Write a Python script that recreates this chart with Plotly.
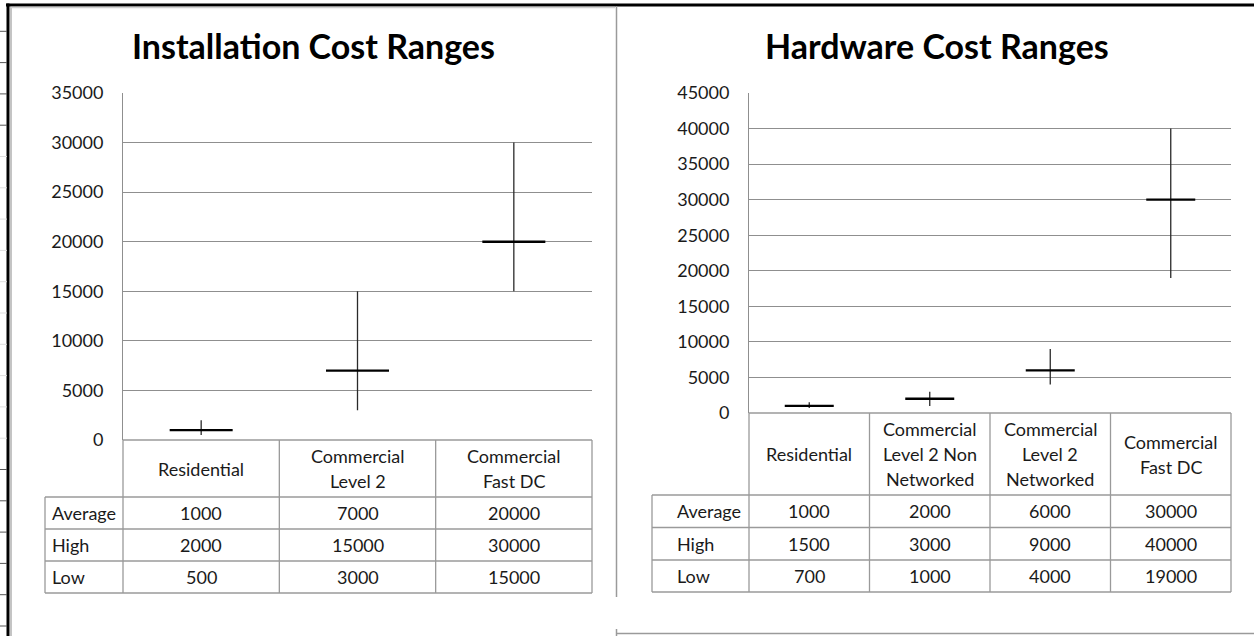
import plotly.graph_objects as go

# ---- data -------------------------------------------------------------
row_labels = ["Average", "High", "Low"]

inst_title = "Installation Cost Ranges"
inst_categories = ["Residential", "Commercial\nLevel 2", "Commercial\nFast DC"]
inst_avg = [1000, 7000, 20000]
inst_high = [2000, 15000, 30000]
inst_low = [500, 3000, 15000]
inst_ticks = [0, 5000, 10000, 15000, 20000, 25000, 30000, 35000]

hw_title = "Hardware Cost Ranges"
hw_categories = ["Residential", "Commercial\nLevel 2 Non\nNetworked",
                 "Commercial\nLevel 2\nNetworked", "Commercial\nFast DC"]
hw_avg = [1000, 2000, 6000, 30000]
hw_high = [1500, 3000, 9000, 40000]
hw_low = [700, 1000, 4000, 19000]
hw_ticks = [0, 5000, 10000, 15000, 20000, 25000, 30000, 35000, 40000, 45000]

# ---- page geometry (pixels) -------------------------------------------
W, H = 1254, 636
FONT = "Lato"
TEXT = "#1a1a1a"
GRID = "#8f8f8f"
TABLE_LINE = "#9a9a9a"
BODY_SIZE = 18


def px(x):
    return x / W


def py(y):
    return 1 - y / H


panels = [
    dict(title=inst_title, cats=inst_categories, avg=inst_avg, high=inst_high,
         low=inst_low, ticks=inst_ticks, x0=123, x1=592, ytop=93, ybot=440,
         label_x0=45, label_pad=5, rows=[440, 497, 529, 561, 593],
         title_x=313, bar_size=45, xa="x", ya="y"),
    dict(title=hw_title, cats=hw_categories, avg=hw_avg, high=hw_high,
         low=hw_low, ticks=hw_ticks, x0=749, x1=1231, ytop=93, ybot=413,
         label_x0=652, label_pad=23, rows=[413, 495, 527.5, 560, 592],
         title_x=937, bar_size=35, xa="x2", ya="y2"),
]

fig = go.Figure()
shapes = []
annotations = []

for i, p in enumerate(panels):
    n = len(p["cats"])
    names = [c.replace("\n", " ") for c in p["cats"]]
    err_up = [h - a for h, a in zip(p["high"], p["avg"])]
    err_dn = [a - l for a, l in zip(p["avg"], p["low"])]

    fig.add_trace(go.Scatter(
        x=list(range(n)), y=p["avg"], xaxis=p["xa"], yaxis=p["ya"],
        mode="markers", name=p["title"], text=names,
        marker=dict(symbol="line-ew", size=p["bar_size"], color="black",
                    line=dict(color="black", width=2.4)),
        error_y=dict(type="data", symmetric=False, array=err_up,
                     arrayminus=err_dn, width=0, thickness=1.3,
                     color="#2a2a2a"),
        hoverinfo="skip", showlegend=False,
    ))

    suffix = "" if i == 0 else str(i + 1)
    top_val = p["ticks"][-1]
    fig.update_layout(**{
        "xaxis" + suffix: dict(
            domain=[px(p["x0"]), px(p["x1"])], range=[-0.5, n - 0.5],
            showgrid=False, zeroline=False, showline=False,
            showticklabels=False, ticks="", anchor=p["ya"], fixedrange=True,
            automargin=False),
        "yaxis" + suffix: dict(
            domain=[py(p["ybot"]), py(p["ytop"])], range=[0, top_val],
            tickvals=p["ticks"], tickformat="d", showgrid=True,
            gridcolor=GRID, gridwidth=1, zeroline=False, showline=True,
            linecolor=GRID, linewidth=1, ticks="", ticklabelstandoff=15,
            tickfont=dict(family=FONT, size=BODY_SIZE, color=TEXT),
            anchor=p["xa"], fixedrange=True, automargin=False),
    })

    # chart title
    annotations.append(dict(
        text=p["title"], xref="paper", yref="paper", x=px(p["title_x"]),
        y=py(46), xanchor="center", yanchor="middle", showarrow=False,
        font=dict(family=FONT, size=34, color="black", weight="bold")))

    # data table: grid lines
    rows = p["rows"]
    col_w = (p["x1"] - p["x0"]) / n
    col_edges = [p["x0"] + k * col_w for k in range(n + 1)]
    line = dict(color=TABLE_LINE, width=1.3)
    # header top only spans the category columns
    shapes.append(dict(type="line", xref="paper", yref="paper",
                       x0=px(p["x0"]), x1=px(p["x1"]),
                       y0=py(rows[0]), y1=py(rows[0]), line=line))
    for r in rows[1:]:
        shapes.append(dict(type="line", xref="paper", yref="paper",
                           x0=px(p["label_x0"]), x1=px(p["x1"]),
                           y0=py(r), y1=py(r), line=line))
    for cx in col_edges:
        shapes.append(dict(type="line", xref="paper", yref="paper",
                           x0=px(cx), x1=px(cx),
                           y0=py(rows[0]), y1=py(rows[-1]), line=line))
    shapes.append(dict(type="line", xref="paper", yref="paper",
                       x0=px(p["label_x0"]), x1=px(p["label_x0"]),
                       y0=py(rows[1]), y1=py(rows[-1]), line=line))

    # header: category names, one annotation per text line
    head_mid = (rows[0] + rows[1]) / 2
    for k, cat in enumerate(p["cats"]):
        lines = cat.split("\n")
        for j, txt in enumerate(lines):
            yy = head_mid + (j - (len(lines) - 1) / 2) * 25
            annotations.append(dict(
                text=txt, xref=p["xa"], yref="paper", x=k, y=py(yy),
                xanchor="center", yanchor="middle", showarrow=False,
                font=dict(family=FONT, size=BODY_SIZE, color=TEXT)))

    # body rows
    series = [p["avg"], p["high"], p["low"]]
    for r, (lab, vals) in enumerate(zip(row_labels, series)):
        yy = (rows[r + 1] + rows[r + 2]) / 2
        annotations.append(dict(
            text=lab, xref="paper", yref="paper",
            x=px(p["label_x0"] + p["label_pad"]), y=py(yy),
            xanchor="left", yanchor="middle", showarrow=False,
            font=dict(family=FONT, size=BODY_SIZE, color=TEXT)))
        for k, v in enumerate(vals):
            annotations.append(dict(
                text=str(v), xref=p["xa"], yref="paper", x=k, y=py(yy),
                xanchor="center", yanchor="middle", showarrow=False,
                font=dict(family=FONT, size=BODY_SIZE, color=TEXT)))

# ---- sheet frame around the two charts ---------------------------------
frame = [
    # heavy outer border (top and left)
    dict(x0=6, x1=W, y0=5, y1=5, color="black", width=3),
    dict(x0=8, x1=8, y0=3.5, y1=H, color="black", width=3),
    # light inner edge
    dict(x0=11, x1=11, y0=7, y1=H, color="#c4c4c4", width=2),
    dict(x0=11, x1=615, y0=7.5, y1=7.5, color="#d0d0d0", width=1.5),
    # divider between the two charts and bottom-right corner
    dict(x0=616.5, x1=616.5, y0=6, y1=597, color="#9a9a9a", width=1.5),
    dict(x0=616.5, x1=616.5, y0=629, y1=H, color="#9a9a9a", width=1.5),
    dict(x0=616, x1=W, y0=633.5, y1=633.5, color="#9a9a9a", width=1.5),
]
for f in frame:
    shapes.append(dict(type="line", xref="paper", yref="paper",
                       x0=px(f["x0"]), x1=px(f["x1"]),
                       y0=py(f["y0"]), y1=py(f["y1"]),
                       line=dict(color=f["color"], width=f["width"])))

# row markers along the left sheet edge
for k in range(1, 21):
    yy = 31.3 * k
    dark = k <= 4 or k >= 15
    shapes.append(dict(type="line", xref="paper", yref="paper",
                       x0=px(0), x1=px(7), y0=py(yy), y1=py(yy),
                       line=dict(color="#555555" if dark else "#dddddd",
                                 width=1)))

fig.update_layout(
    width=W, height=H,
    margin=dict(l=0, r=0, t=0, b=0, pad=0, autoexpand=False),
    paper_bgcolor="white", plot_bgcolor="white",
    shapes=shapes, annotations=annotations, showlegend=False,
    font=dict(family=FONT, color=TEXT),
)

fig.write_html("out.html", config={"displayModeBar": False})
